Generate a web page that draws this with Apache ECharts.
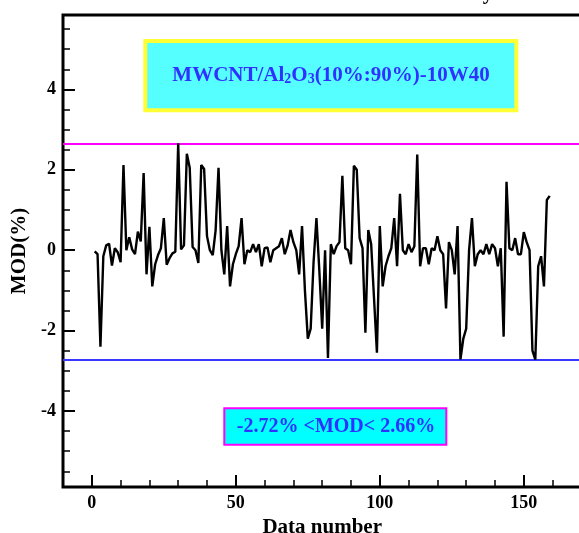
<!DOCTYPE html>
<html>
<head>
<meta charset="utf-8">
<script src="https://cdn.jsdelivr.net/npm/echarts@6/dist/echarts.min.js"></script>
<style>
html,body{margin:0;padding:0;background:#fff;}
#chart{width:579px;height:533px;}
</style>
</head>
<body>
<div id="chart"></div>
<script>
// ---- data ----
const modValues = [
  -0.03, -0.10, -2.40, -0.15, 0.12, 0.16, -0.38, 0.05, -0.05, -0.30,
  2.12, 0.00, 0.32, 0.02, -0.10, 0.46, 0.22, 1.92, -0.60, 0.58,
  -0.90, -0.35, -0.12, 0.05, 0.80, -0.36, -0.20, -0.08, -0.04, 2.66,
  0.02, 0.12, 2.40, 2.05, 0.08, 0.00, -0.32, 2.12, 2.02, 0.35,
  0.00, -0.12, 0.50, 2.05, 0.00, -0.60, 0.60, -0.90, -0.35, -0.10,
  0.10, 0.80, -0.35, 0.00, -0.05, 0.15, -0.05, 0.15, -0.40, 0.05,
  0.07, -0.30, 0.00, 0.05, 0.10, 0.30, -0.10, 0.12, 0.50, 0.20,
  0.00, -0.60, 0.60, -1.00, -2.20, -1.95, -0.30, 0.80, -0.50, -1.95,
  0.00, -2.68, 0.15, -0.10, 0.10, 0.20, 1.85, 0.05, 0.00, -0.35,
  2.10, 2.00, 0.30, 0.05, -2.05, 0.50, 0.15, -1.20, -2.55, 0.60,
  -0.90, -0.40, -0.15, 0.05, 0.80, -0.40, 1.40, 0.00, -0.10, 0.15,
  -0.05, 0.10, 2.38, -0.40, 0.05, 0.05, -0.35, 0.05, 0.00, 0.35,
  0.00, -0.10, -1.45, 0.20, 0.00, -0.60, 0.60, -2.72, -2.20, -1.95,
  0.00, 0.80, -0.40, -0.10, 0.00, -0.10, 0.15, -0.10, 0.15, 0.05,
  -0.40, 0.05, -2.15, 1.70, 0.05, 0.00, 0.30, -0.10, -0.10, 0.45,
  0.20, 0.00, -2.50, -2.72, -0.40, -0.15, -0.90, 1.25, 1.35
];
const upperLimit = 2.66;
const lowerLimit = -2.72;
const xMajorTicks = [0, 50, 100, 150];
const xMinorTicks = [10, 20, 30, 40, 60, 70, 80, 90, 110, 120, 130, 140, 160];
const yMajorTicks = [-4, -2, 0, 2, 4];
const yMinorTicks = [-5.5, -5, -4.5, -3.5, -3, -2.5, -1.5, -1, -0.5, 0.5, 1, 1.5, 2.5, 3, 3.5, 4.5, 5, 5.5];
const xRange = [-10, 170];
const yRange = [-5.89, 5.85];
const xTitle = 'Data number';
const yTitle = 'MOD(%)';
const boxTitleParts = ['MWCNT/Al', '2', 'O', '3', '(10%:90%)-10W40'];
const rangeText = '-2.72% <MOD< 2.66%';
const clippedTopText = 'y';

// ---- build ----
const seriesData = modValues.map((v, i) => [i + 1, v]);
const FONT = '"Liberation Serif", "Times New Roman", serif';
const labelStyle = { fontFamily: FONT, fontWeight: 'bold', fontSize: 18, color: '#000' };
const noLine = { show: false, onZero: false };

const chart = echarts.init(document.getElementById('chart'), null, { renderer: 'canvas' });
chart.setOption({
  animation: false,
  backgroundColor: '#fff',
  grid: {
    left: 63, top: 15, width: 518.4, height: 472,
    show: true, borderColor: '#000', borderWidth: 3, backgroundColor: 'transparent',
    containLabel: false, outerBoundsMode: 'none'
  },
  xAxis: [
    {
      type: 'value', min: xRange[0], max: xRange[1], position: 'bottom',
      axisLine: noLine, splitLine: { show: false },
      axisTick: { inside: true, length: 12, customValues: xMajorTicks, lineStyle: { color: '#000', width: 2 } },
      axisLabel: Object.assign({ customValues: xMajorTicks, margin: 7 }, labelStyle),
      name: xTitle, nameLocation: 'middle', nameGap: 14,
      nameTextStyle: { fontFamily: FONT, fontWeight: 'bold', fontSize: 21, color: '#000' }
    },
    {
      type: 'value', min: xRange[0], max: xRange[1], position: 'bottom',
      axisLine: noLine, splitLine: { show: false }, axisLabel: { show: false },
      axisTick: { inside: true, length: 7, customValues: xMinorTicks, lineStyle: { color: '#000', width: 1.5 } }
    }
  ],
  yAxis: [
    {
      type: 'value', min: yRange[0], max: yRange[1], position: 'left',
      axisLine: noLine, splitLine: { show: false },
      axisTick: { inside: true, length: 12, customValues: yMajorTicks, lineStyle: { color: '#000', width: 2 } },
      axisLabel: Object.assign({ customValues: yMajorTicks, margin: 7 }, labelStyle),
      name: yTitle, nameLocation: 'middle', nameGap: 25, nameRotate: 90,
      nameTextStyle: { fontFamily: FONT, fontWeight: 'bold', fontSize: 21, color: '#000' }
    },
    {
      type: 'value', min: yRange[0], max: yRange[1], position: 'left',
      axisLine: noLine, splitLine: { show: false }, axisLabel: { show: false },
      axisTick: { inside: true, length: 7, customValues: yMinorTicks, lineStyle: { color: '#000', width: 1.5 } }
    }
  ],
  series: [
    {
      type: 'line', xAxisIndex: 0, yAxisIndex: 0,
      data: seriesData, showSymbol: false, symbol: 'none',
      lineStyle: { color: '#000', width: 2.4 },
      z: 5,
      markLine: {
        silent: true, symbol: 'none', label: { show: false },
        data: [
          { yAxis: upperLimit, lineStyle: { color: '#ff00ff', width: 2, type: 'solid' } },
          { yAxis: lowerLimit, lineStyle: { color: '#3636ff', width: 2, type: 'solid' } }
        ]
      }
    }
  ],
  graphic: [
    {
      type: 'text', z: 101, x: 488, y: -6,
      style: {
        text: clippedTopText, fill: '#000', font: 'bold 21px ' + FONT,
        align: 'center', verticalAlign: 'middle', textAlign: 'center', textVerticalAlign: 'middle'
      }
    },
    {
      type: 'rect', z: 100,
      shape: { x: 145.3, y: 41, width: 371, height: 69.3 },
      style: { fill: '#55ffff', stroke: '#ffff33', lineWidth: 4 }
    },
    {
      type: 'text', z: 101, x: 331, y: 74,
      style: {
        text: '{b|' + boxTitleParts[0] + '}{s|' + boxTitleParts[1] + '}{b|' + boxTitleParts[2] + '}{s|' + boxTitleParts[3] + '}{b|' + boxTitleParts[4] + '}',
        align: 'center', verticalAlign: 'middle', textAlign: 'center', textVerticalAlign: 'middle',
        rich: {
          b: { fontFamily: FONT, fontWeight: 'bold', fontSize: 21, fill: '#3030ff', color: '#3030ff', lineHeight: 24, verticalAlign: 'bottom' },
          s: { fontFamily: FONT, fontWeight: 'bold', fontSize: 14, fill: '#3030ff', color: '#3030ff', lineHeight: 12, verticalAlign: 'bottom' }
        }
      }
    },
    {
      type: 'rect', z: 100,
      shape: { x: 224.3, y: 408.3, width: 222, height: 36.4 },
      style: { fill: '#00ffff', stroke: '#ff00ff', lineWidth: 2 }
    },
    {
      type: 'text', z: 101, x: 336, y: 427,
      style: {
        text: rangeText, fill: '#3030ff',
        font: 'bold 20px ' + FONT,
        align: 'center', verticalAlign: 'middle', textAlign: 'center', textVerticalAlign: 'middle'
      }
    }
  ]
});
</script>
</body>
</html>
